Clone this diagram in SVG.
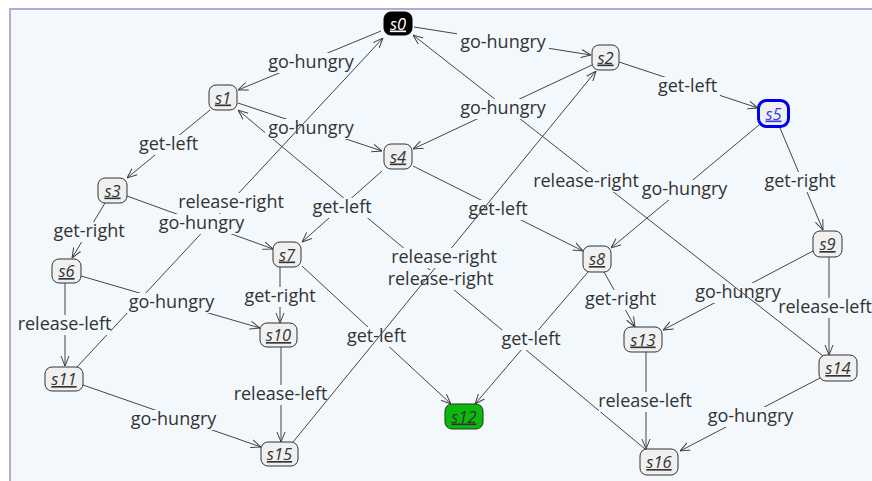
<svg xmlns="http://www.w3.org/2000/svg" width="872" height="481" viewBox="0 0 872 481">
<defs>
<marker id="arr" viewBox="0 0 10 10" refX="10" refY="5" markerWidth="10" markerHeight="10" markerUnits="userSpaceOnUse" orient="auto">
<path d="M0,1 L10,5 L0,9" fill="none" stroke="#404040" stroke-width="1"/>
</marker>
<style>
.e path{fill:none;stroke:#454545;stroke-width:1;marker-end:url(#arr)}
.e rect{fill:#f2f8fc}
.e text{font-family:"Open Sans","Noto Sans",sans-serif;font-size:18px;fill:#333;text-anchor:middle}
.n rect{fill:#f0f0f0;stroke:#333;stroke-width:1}
.n text{font-family:"Open Sans","Noto Sans",sans-serif;font-size:16.5px;font-style:italic;text-decoration:underline;fill:#333;text-anchor:middle}
</style>
</defs>
<rect x="0" y="0" width="872" height="481" fill="#ffffff"/>
<rect x="10" y="8" width="862" height="473" fill="#f2f8fc"/>
<path d="M10,481 V9 H872" fill="none" stroke="#b5a9cf" stroke-width="2"/>

<g id="connectors">
<g class="e" id="e-s16-s1"><path d="M645,449 L238,110"/><rect x="388" y="270" width="105" height="20"/><text x="440.5" y="285">release-right</text></g>
<g class="e" id="e-s1-s4"><path d="M238,103 L382,151"/><rect x="265" y="119" width="92" height="20"/><text x="311" y="134">go-hungry</text></g>
<g class="e" id="e-s0-s1"><path d="M381,31 L238,90"/><rect x="265" y="53" width="92" height="20"/><text x="311" y="68">go-hungry</text></g>
<g class="e" id="e-s11-s0"><path d="M77,367 L383,38"/><rect x="176.5" y="193" width="109" height="20"/><text x="231" y="208">release-right</text></g>
<g class="e" id="e-s0-s2"><path d="M414,27 L591,55"/><rect x="457" y="33" width="92" height="20"/><text x="503" y="48">go-hungry</text></g>
<g class="e" id="e-s1-s3"><path d="M210,110 L127,178"/><rect x="136" y="135" width="65" height="20"/><text x="168.5" y="150">get-left</text></g>
<g class="e" id="e-s2-s5"><path d="M619,62 L758,108"/><rect x="655" y="77" width="65" height="20"/><text x="687.5" y="92">get-left</text></g>
<g class="e" id="e-s3-s6"><path d="M105,203 L72,258"/><rect x="50" y="222" width="78" height="20"/><text x="89" y="237">get-right</text></g>
<g class="e" id="e-s5-s9"><path d="M780,128 L823,230"/><rect x="761" y="172" width="78" height="20"/><text x="800" y="187">get-right</text></g>
<g class="e" id="e-s3-s7"><path d="M127,196 L273,249"/><rect x="155.5" y="214" width="92" height="20"/><text x="201.5" y="229">go-hungry</text></g>
<g class="e" id="e-s6-s10"><path d="M81,276 L260,328"/><rect x="125.5" y="293" width="92" height="20"/><text x="171.5" y="308">go-hungry</text></g>
<g class="e" id="e-s6-s11"><path d="M65,283 L65,366"/><rect x="18.5" y="315" width="92" height="20"/><text x="64.5" y="330">release-left</text></g>
<g class="e" id="e-s9-s14"><path d="M829,257 L829,355"/><rect x="779" y="298" width="92" height="20"/><text x="825" y="313">release-left</text></g>
<g class="e" id="e-s11-s15"><path d="M83,385 L261,447"/><rect x="127.5" y="410" width="92" height="20"/><text x="173.5" y="425">go-hungry</text></g>
<g class="e" id="e-s4-s7"><path d="M382,171 L302,242"/><rect x="309.5" y="198" width="65" height="20"/><text x="342" y="213">get-left</text></g>
<g class="e" id="e-s4-s8"><path d="M413,166 L583,251"/><rect x="465.5" y="200" width="65" height="20"/><text x="498" y="215">get-left</text></g>
<g class="e" id="e-s7-s10"><path d="M280,267 L280,323"/><rect x="241" y="287" width="78" height="20"/><text x="280" y="302">get-right</text></g>
<g class="e" id="e-s8-s13"><path d="M604,272 L635,327"/><rect x="581.5" y="290" width="78" height="20"/><text x="620.5" y="305">get-right</text></g>
<g class="e" id="e-s10-s15"><path d="M281,347 L281,442"/><rect x="234.5" y="385" width="92" height="20"/><text x="280.5" y="400">release-left</text></g>
<g class="e" id="e-s13-s16"><path d="M646,352 L646,449"/><rect x="599" y="392" width="92" height="20"/><text x="645" y="407">release-left</text></g>
<g class="e" id="e-s7-s12"><path d="M302,266 L451,404"/><rect x="344" y="327" width="65" height="20"/><text x="376.5" y="342">get-left</text></g>
<g class="e" id="e-s8-s12"><path d="M588,272 L475,404"/><rect x="498.5" y="330" width="65" height="20"/><text x="531" y="345">get-left</text></g>
<g class="e" id="e-s14-s16"><path d="M820,378 L680,451"/><rect x="704.5" y="407" width="92" height="20"/><text x="750.5" y="422">go-hungry</text></g>
<g class="e" id="e-s9-s13"><path d="M813,251 L663,330"/><rect x="692" y="283" width="92" height="20"/><text x="738" y="298">go-hungry</text></g>
<g class="e" id="e-s5-s8"><path d="M759,125 L611,248"/><rect x="638.5" y="180" width="92" height="20"/><text x="684.5" y="195">go-hungry</text></g>
<g class="e" id="e-s15-s2"><path d="M293,442 L596,71"/><rect x="391.5" y="248" width="105" height="20"/><text x="444" y="263">release-right</text></g>
<g class="e" id="e-s14-s0"><path d="M823,356 L413,35"/><rect x="533.5" y="172" width="105" height="20"/><text x="586" y="187">release-right</text></g>
<g class="e" id="e-s2-s4"><path d="M592,65 L413,149"/><rect x="457" y="99" width="92" height="20"/><text x="503" y="114">go-hungry</text></g>
</g>

<g class="n" id="s0"><rect x="384" y="12" width="28" height="23" rx="7" style="fill:#000;stroke:#000"/><text x="398" y="29.5" style="fill:#fff">s0</text></g>
<g class="n" id="s1"><rect x="209" y="85" width="28" height="25" rx="7"/><text x="223" y="103.5">s1</text></g>
<g class="n" id="s2"><rect x="592" y="45" width="27" height="25" rx="7"/><text x="605.5" y="63.5">s2</text></g>
<g class="n" id="s3"><rect x="98" y="178" width="29" height="25" rx="7"/><text x="112.5" y="196.5">s3</text></g>
<g class="n" id="s4"><rect x="384" y="144" width="28" height="25" rx="7"/><text x="398" y="162.5">s4</text></g>
<g class="n" id="s5"><rect x="758.5" y="100.5" width="30" height="26" rx="8" style="stroke:#0000f0;stroke-width:3"/><text x="773.5" y="119.5" style="fill:#3838f0">s5</text></g>
<g class="n" id="s6"><rect x="52" y="259" width="29" height="24" rx="7"/><text x="66.5" y="277">s6</text></g>
<g class="n" id="s7"><rect x="273" y="242" width="28" height="25" rx="7"/><text x="287" y="260.5">s7</text></g>
<g class="n" id="s8"><rect x="583" y="246" width="28" height="26" rx="7"/><text x="597" y="265">s8</text></g>
<g class="n" id="s9"><rect x="813" y="231" width="29" height="26" rx="7"/><text x="827.5" y="250">s9</text></g>
<g class="n" id="s10"><rect x="260" y="323" width="37" height="24" rx="7"/><text x="278.5" y="341">s10</text></g>
<g class="n" id="s11"><rect x="45" y="367" width="38" height="24" rx="7"/><text x="64" y="385">s11</text></g>
<g class="n" id="s12"><rect x="445" y="404" width="38" height="25" rx="7" style="fill:#0cb80c;stroke:#1a3a1a"/><text x="464" y="422.5">s12</text></g>
<g class="n" id="s13"><rect x="624" y="327" width="38" height="25" rx="7"/><text x="643" y="345.5">s13</text></g>
<g class="n" id="s14"><rect x="819" y="355" width="38" height="26" rx="7"/><text x="838" y="374">s14</text></g>
<g class="n" id="s15"><rect x="261" y="442" width="37" height="24" rx="7"/><text x="279.5" y="460">s15</text></g>
<g class="n" id="s16"><rect x="640" y="449" width="38" height="26" rx="7"/><text x="659" y="468">s16</text></g>
</svg>
